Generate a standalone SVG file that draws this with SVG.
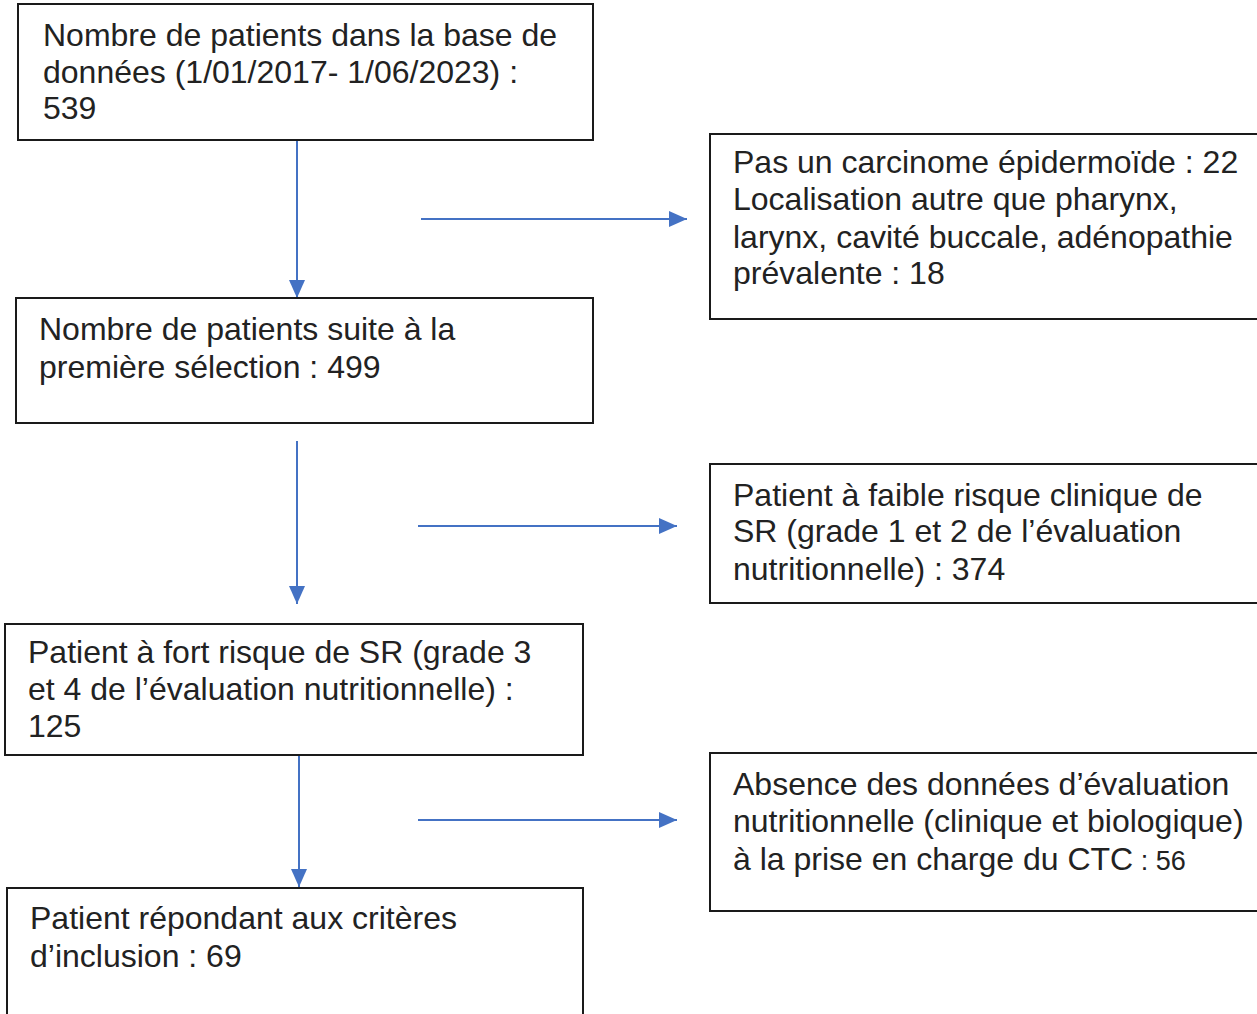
<svg xmlns="http://www.w3.org/2000/svg" width="1257" height="1014" viewBox="0 0 1257 1014">
<style>
.box{fill:#fff;stroke:#1a1a1a;stroke-width:2}
.t{font-family:"Liberation Sans",Arial,sans-serif;font-size:32px;fill:#222}
.s{font-size:27px}
.c{stroke:#4472C4;stroke-width:2;fill:none;marker-end:url(#ah)}
</style>
<defs>
<marker id="ah" markerUnits="userSpaceOnUse" markerWidth="18" markerHeight="16" refX="18" refY="8" orient="auto">
<path d="M0,0 L18,8 L0,16 z" fill="#4472C4"/>
</marker>
</defs>
<rect width="1257" height="1014" fill="#fff"/>
<g id="connectors">
<line class="c" x1="297" y1="136" x2="297" y2="298"/>
<line class="c" x1="297" y1="441" x2="297" y2="604"/>
<line class="c" x1="299" y1="756" x2="299" y2="887"/>
<line class="c" x1="421" y1="219" x2="687" y2="219"/>
<line class="c" x1="418" y1="526" x2="677" y2="526"/>
<line class="c" x1="418" y1="820" x2="677" y2="820"/>
</g>
<g id="n1">
<rect class="box" x="18" y="4" width="575" height="136"/>
<text class="t" x="43" y="46">Nombre de patients dans la base de</text>
<text class="t" x="43" y="83">données (1/01/2017- 1/06/2023) :</text>
<text class="t" x="43" y="119">539</text>
</g>
<g id="n2">
<rect class="box" x="16" y="298" width="577" height="125"/>
<text class="t" x="39" y="340">Nombre de patients suite à la</text>
<text class="t" x="39" y="378">première sélection : 499</text>
</g>
<g id="n3">
<rect class="box" x="5" y="624" width="578" height="131"/>
<text class="t" x="28" y="663">Patient à fort risque de SR (grade 3</text>
<text class="t" x="28" y="700">et 4 de l’évaluation nutritionnelle) :</text>
<text class="t" x="28" y="737">125</text>
</g>
<g id="n4">
<rect class="box" x="7" y="888" width="576" height="140"/>
<text class="t" x="30" y="929">Patient répondant aux critères</text>
<text class="t" x="30" y="967">d’inclusion : 69</text>
</g>
<g id="r1">
<rect class="box" x="710" y="134" width="560" height="185"/>
<text class="t" x="733" y="173">Pas un carcinome épidermoïde : 22</text>
<text class="t" x="733" y="210">Localisation autre que pharynx,</text>
<text class="t" x="733" y="248">larynx, cavité buccale, adénopathie</text>
<text class="t" x="733" y="284">prévalente : 18</text>
</g>
<g id="r2">
<rect class="box" x="710" y="464" width="560" height="139"/>
<text class="t" x="733" y="506">Patient à faible risque clinique de</text>
<text class="t" x="733" y="542">SR (grade 1 et 2 de l’évaluation</text>
<text class="t" x="733" y="580">nutritionnelle) : 374</text>
</g>
<g id="r3">
<rect class="box" x="710" y="753" width="560" height="158"/>
<text class="t" x="733" y="795">Absence des données d’évaluation</text>
<text class="t" x="733" y="832">nutritionnelle (clinique et biologique)</text>
<text class="t" x="733" y="870">à la prise en charge du CTC<tspan class="s"> : 56</tspan></text>
</g>
</svg>
